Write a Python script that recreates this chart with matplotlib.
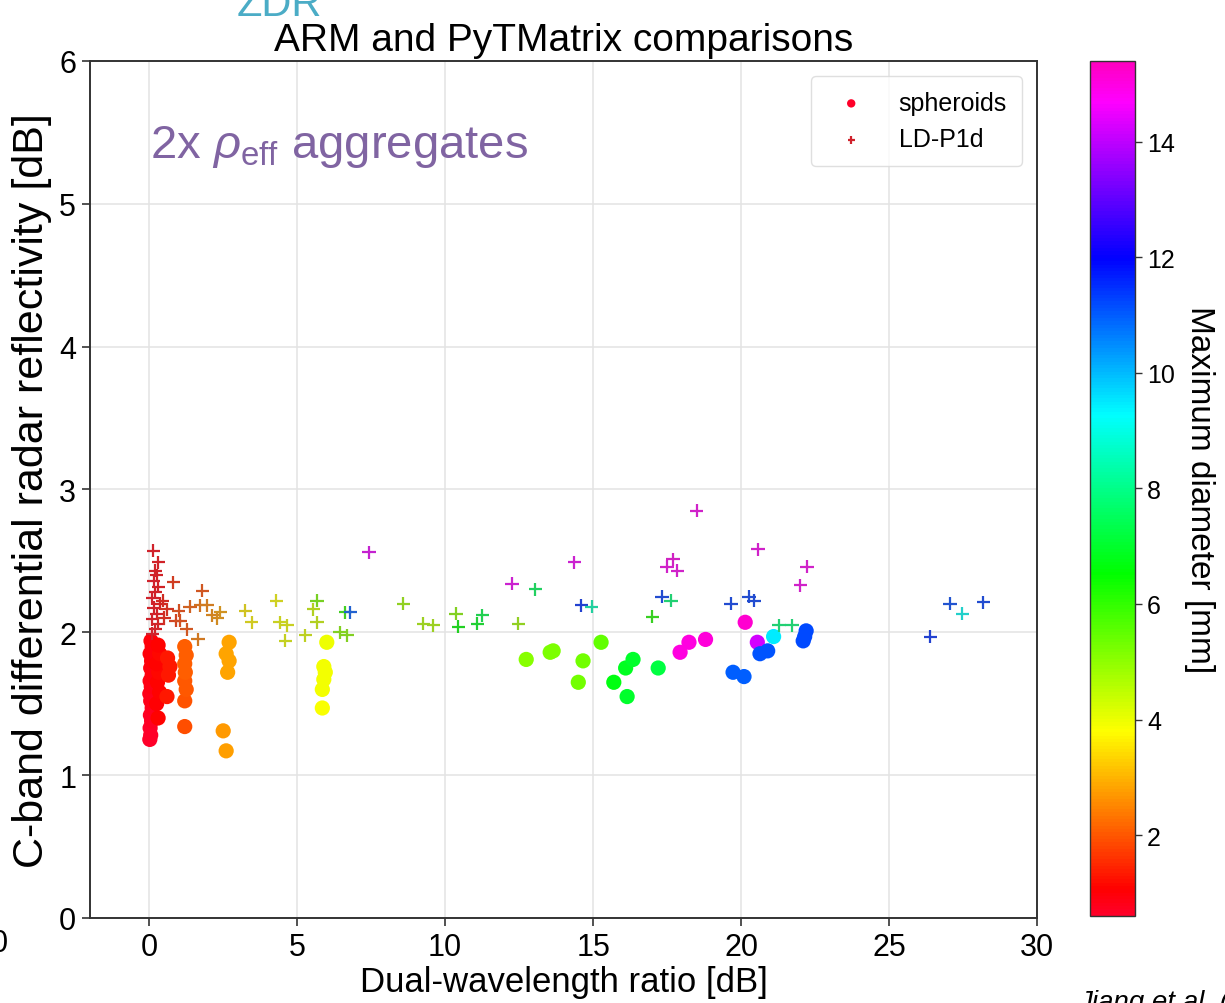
import matplotlib

matplotlib.use("Agg")
import matplotlib.pyplot as plt
import numpy as np
from matplotlib.colors import Normalize

plt.rcParams["font.family"] = ["Liberation Sans", "DejaVu Sans"]
plt.rcParams["mathtext.fontset"] = "custom"
plt.rcParams["mathtext.rm"] = "Liberation Sans"
plt.rcParams["mathtext.it"] = "Liberation Sans:italic"

INK, GRID = "#333333", "#e3e3e3"
PURPLE, AQUA = "#8064a2", "#4bacc6"
D_MIN, D_MAX = 0.6, 15.4

# spheroids: dual-wavelength ratio [dB], C-band ZDR [dB], maximum diameter [mm]
sph_dwr = [0.02, 0.05, 0.03, 0.08, 0.04, 0.10, 0.05, 0.02, 0.07, 0.03, 0.10, 0.05, 0.08, 0.03, 0.10, 0.06,
           0.30, 0.25, 0.35, 0.28, 0.32, 0.25, 0.35, 0.30,
           0.60, 0.65, 0.70, 0.62,
           1.20, 1.20, 1.25, 1.20, 1.22, 1.20, 1.25, 1.20,
           2.60, 2.50, 2.65, 2.70, 2.60, 2.70,
           5.85, 5.85, 5.90, 5.95, 5.90, 6.00,
           12.74, 13.55, 13.65, 14.50, 14.66, 15.27,
           15.70, 16.10, 16.35, 16.15, 17.20,
           17.94, 18.24, 18.80, 20.14, 20.55,
           19.73, 20.10, 20.64, 20.90, 21.10, 22.20, 22.10, 22.15]
sph_zdr = [1.25, 1.28, 1.33, 1.38, 1.42, 1.47, 1.52, 1.57, 1.62, 1.66, 1.70, 1.75, 1.80, 1.85, 1.90, 1.94,
           1.40, 1.50, 1.58, 1.65, 1.72, 1.78, 1.85, 1.91,
           1.55, 1.70, 1.76, 1.82,
           1.34, 1.52, 1.60, 1.66, 1.72, 1.78, 1.84, 1.90,
           1.17, 1.31, 1.72, 1.80, 1.85, 1.93,
           1.47, 1.60, 1.67, 1.72, 1.76, 1.93,
           1.81, 1.86, 1.87, 1.65, 1.80, 1.93,
           1.65, 1.75, 1.81, 1.55, 1.75,
           1.86, 1.93, 1.95, 2.07, 1.93,
           1.72, 1.69, 1.85, 1.87, 1.97, 2.01, 1.94, 1.97]
sph_dmax = [0.60, 0.65, 0.65, 0.70, 0.70, 0.75, 0.80, 0.80, 0.85, 0.85, 0.90, 0.90, 0.95, 0.95, 1.00, 1.00,
            1.10, 1.05, 1.10, 1.10, 1.15, 1.10, 1.15, 1.10,
            1.35, 1.30, 1.35, 1.30,
            1.90, 1.95, 2.00, 2.00, 2.05, 2.05, 2.10, 2.10,
            2.75, 2.70, 2.80, 2.80, 2.85, 2.85,
            3.85, 3.90, 3.90, 3.95, 3.95, 4.00,
            5.1, 5.2, 5.2, 5.3, 5.3, 5.5,
            6.7, 6.9, 7.0, 7.0, 7.2,
            15.0, 15.0, 15.1, 15.2, 14.2,
            11.0, 11.0, 11.1, 11.1, 9.5, 11.2, 11.2, 11.2]

# LD-P1d aggregates
ld_dwr = [0.14, 0.30, 0.20, 0.25, 0.15, 0.30, 0.20, 0.10, 0.35, 0.15, 0.25, 0.10, 0.30, 0.20, 0.10,
          0.45, 0.60, 0.50, 0.81, 1.80,
          0.90, 1.00, 1.05, 1.27, 1.38, 1.65, 1.72, 1.95, 2.13, 2.30, 2.40,
          3.24, 3.47, 4.30, 4.42, 4.66, 4.60, 5.27, 5.55, 5.67, 5.67, 6.45, 6.70, 6.62, 6.79, 7.43,
          8.58, 9.26, 9.60, 10.37, 10.44, 11.08, 11.25, 12.26, 12.47, 13.04, 14.36, 14.60, 14.95,
          17.00, 17.33, 17.63, 17.50, 17.70, 17.84, 18.50, 20.57, 19.66, 20.27, 20.44,
          21.28, 21.72, 22.23, 22.00, 26.39, 27.06, 27.47, 28.18]
ld_zdr = [2.57, 2.49, 2.43, 2.40, 2.36, 2.32, 2.28, 2.24, 2.20, 2.17, 2.13, 2.09, 2.06, 2.02, 1.99,
          2.22, 2.16, 2.10, 2.35, 2.29,
          2.08, 2.15, 2.08, 2.02, 2.18, 1.95, 2.19, 2.19, 2.12, 2.10, 2.14,
          2.15, 2.07, 2.22, 2.07, 2.05, 1.94, 1.98, 2.16, 2.07, 2.22, 2.00, 1.98, 2.14, 2.14, 2.56,
          2.20, 2.06, 2.05, 2.13, 2.04, 2.06, 2.12, 2.34, 2.06, 2.30, 2.49, 2.19, 2.18,
          2.11, 2.25, 2.22, 2.46, 2.51, 2.43, 2.85, 2.58, 2.20, 2.25, 2.22,
          2.05, 2.05, 2.46, 2.33, 1.97, 2.20, 2.13, 2.21]
ld_dmax = [0.90, 1.00, 0.95, 1.00, 0.90, 1.05, 1.00, 0.90, 1.10, 0.95, 1.00, 0.90, 1.05, 1.00, 0.90,
           1.20, 1.30, 1.25, 1.50, 1.90,
           1.60, 1.80, 1.80, 1.90, 2.10, 2.40, 2.30, 2.50, 2.60, 2.70, 2.80,
           3.6, 3.7, 3.8, 3.9, 3.9, 4.0, 4.1, 4.3, 4.3, 5.2, 5.0, 5.0, 6.0, 11.0, 14.5,
           4.8, 4.6, 4.6, 5.0, 6.5, 6.8, 7.3, 14.6, 4.8, 7.5, 14.6, 11.5, 8.5,
           6.2, 11.3, 7.8, 14.8, 14.9, 14.8, 14.8, 14.8, 11.3, 11.3, 11.3,
           7.8, 7.8, 14.8, 14.8, 11.5, 11.2, 9.2, 11.3]

cmap = plt.get_cmap("gist_rainbow")
norm = Normalize(vmin=D_MIN, vmax=D_MAX)

fig = plt.figure(figsize=(12.25, 10.04), dpi=100)
ax = fig.add_axes([0.0735, 0.0847, 0.773, 0.8536])
cax = fig.add_axes([0.890, 0.0867, 0.0367, 0.8516])

sc = ax.scatter(sph_dwr, sph_zdr, c=sph_dmax, cmap=cmap, norm=norm, s=120, marker="o",
                linewidths=0, label="spheroids", zorder=3)
# crosses use the same colormap, toned down towards grey
ld_col = cmap(norm(np.array(ld_dmax)))
ld_col[:, :3] = 0.68 * ld_col[:, :3] + 0.32 * 0.42
ax.scatter(ld_dwr, ld_zdr, color=ld_col, s=90, marker="+", linewidths=1.6,
           label="LD-P1d", zorder=4)

ax.set_xlim(-2, 30)
ax.set_ylim(0, 6)
ax.set_xticks([0, 5, 10, 15, 20, 25, 30])
ax.set_yticks([0, 1, 2, 3, 4, 5, 6])
ax.grid(True, color=GRID, lw=1.1, zorder=0)
ax.set_axisbelow(True)
ax.tick_params(labelsize=22, length=6, width=1.2, color=INK, pad=4)
for s in ax.spines.values():
    s.set_color(INK)
    s.set_linewidth(1.4)
ax.set_xlabel("Dual-wavelength ratio [dB]", fontsize=25, labelpad=2)
ax.set_ylabel("C-band differential radar reflectivity [dB]", fontsize=31, labelpad=5)
ax.set_title("ARM and PyTMatrix comparisons", fontsize=28, pad=8)

leg = ax.legend(loc="upper right", fontsize=18, frameon=True, fancybox=True, borderpad=0.6,
                handletextpad=0.9, markerscale=0.55, borderaxespad=0.6)
leg.get_frame().set_edgecolor("#d8d8d8")
leg.get_frame().set_linewidth(1.0)

ax.text(0.02, 5.33, r"2x $\rho_{\rm eff}$ aggregates", color=PURPLE, fontsize=34,
        va="baseline", ha="left")

cb = fig.colorbar(sc, cax=cax)
cb.set_ticks([2, 4, 6, 8, 10, 12, 14])
cb.ax.tick_params(labelsize=18, length=5, width=1.0, color=INK)
cb.outline.set_edgecolor(INK)
cb.outline.set_linewidth(1.0)
cb.set_label("Maximum diameter [mm]", fontsize=24, rotation=270, labelpad=29)

fig.text(237 / 1225, 1 - 16 / 1004, "ZDR", color=AQUA, fontsize=30, ha="left", va="baseline")
fig.text(9 / 1225, 1 - 944 / 1004, "30", fontsize=22, ha="right", va="center")
fig.text(1078 / 1225, 1 - 990 / 1004, "Jiang et al. (2019)", fontsize=20, style="italic",
         ha="left", va="top")

fig.savefig("out.png", dpi=100)
